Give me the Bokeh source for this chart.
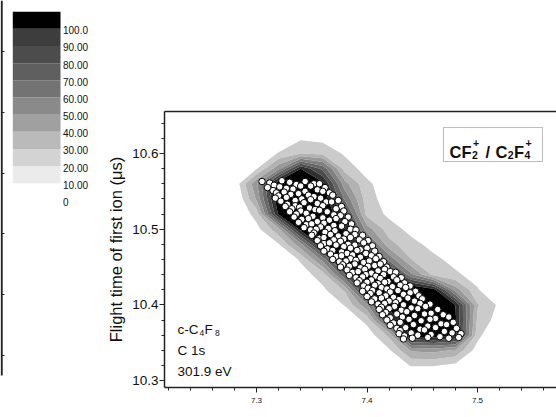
import numpy as np
from bokeh.plotting import figure
from bokeh.layouts import row
from bokeh.models import (Range1d, LinearAxis, SingleIntervalTicker, FixedTicker,
                          PrintfTickFormatter, Label, BoxAnnotation)
from bokeh.embed import file_html
from bokeh.resources import INLINE
from bokeh.core.properties import value

FONT = "Liberation Sans"

# ---------------- colour scale (left key) ----------------
cb_levels = [10, 20, 30, 40, 50, 60, 70, 80, 90, 100, 110]
cb_colors = ["#ebebeb", "#d3d3d3", "#bababa", "#a0a0a0", "#8a8a8a",
             "#737373", "#5f5f5f", "#4c4c4c", "#3d3d3d", "#000000"]
cb_tick_values = [100, 90, 80, 70, 60, 50, 40, 30, 20, 10, 0]
cb_tick_labels = ["100.0", "90.00", "80.00", "70.00", "60.00", "50.00",
                  "40.00", "30.00", "20.00", "10.00", "0"]

# ---------------- contour map (density grid) ----------------
grid_x = [7.26, 7.28, 7.30, 7.32, 7.34, 7.36, 7.38, 7.40,
          7.42, 7.44, 7.46, 7.48, 7.50, 7.52, 7.54, 7.56]
grid_y = [10.30, 10.32, 10.34, 10.36, 10.38, 10.40, 10.42, 10.44, 10.46,
          10.48, 10.50, 10.52, 10.54, 10.56, 10.58, 10.60, 10.62, 10.64]
# rows listed from top (10.64) to bottom (10.30)
z_rows = [
    [0, 0, 0, 12.6, 19.8, 17.7, 9.7, 0, 0, 0, 0, 0, 0, 0, 0, 0],
    [0, 0, 10.4, 21.3, 28.6, 27.1, 18.4, 11.1, 0, 0, 0, 0, 0, 0, 0, 0],
    [0, 11.8, 21.3, 30.8, 39.5, 37.3, 28.6, 20.6, 13.3, 0, 0, 0, 0, 0, 0, 0],
    [0, 17.7, 29.3, 57, 100, 77.2, 35.8, 25.7, 16.2, 0, 0, 0, 0, 0, 0, 0],
    [0, 22, 58, 110, 115, 103, 53.4, 32.2, 23.5, 11.8, 0, 0, 0, 0, 0, 0],
    [0, 16.9, 51.5, 110, 115, 110, 68.2, 34.4, 24.9, 16.2, 0, 0, 0, 0, 0, 0],
    [0, 18.4, 34.4, 102, 112, 112, 87.2, 36.6, 27.8, 18.4, 8.9, 0, 0, 0, 0, 0],
    [0, 12.6, 26.4, 46.9, 105, 112, 100, 55.2, 34.4, 27.1, 19.8, 13.3, 0, 0, 0, 0],
    [0, 0, 18.4, 29.3, 57, 108, 110, 76, 43.8, 32.9, 27.1, 21.3, 15.5, 9.7, 0, 0],
    [0, 0, 0, 19.1, 31.5, 64, 108, 102, 67, 40.2, 32.2, 27.1, 21.3, 16.2, 10.4, 0],
    [0, 0, 0, 15.5, 24.9, 35.1, 79.7, 108, 100, 62, 37.3, 31.5, 26.4, 21.3, 15.5, 10.4],
    [0, 0, 0, 0, 17.7, 27.8, 41.7, 101, 112, 115, 105, 55.2, 30.8, 20.6, 10.4, 0],
    [0, 0, 0, 0, 10.4, 19.8, 30.8, 58, 108, 115, 115, 100, 40.9, 27.8, 16.2, 0],
    [0, 0, 0, 0, 0, 0, 20.6, 33.7, 85.9, 110, 115, 102, 38, 24.9, 12.6, 0],
    [0, 0, 0, 0, 0, 0, 0, 23.5, 42.4, 105, 108, 103, 33.7, 14.8, 0, 0],
    [0, 0, 0, 0, 0, 0, 0, 13.3, 28.6, 51.5, 53.4, 48.8, 24.9, 8.9, 0, 0],
    [0, 0, 0, 0, 0, 0, 0, 0, 20.6, 30.8, 30.8, 27.1, 16.2, 0, 0, 0],
    [0, 0, 0, 0, 0, 0, 0, 0, 0, 16.9, 16.9, 12.6, 0, 0, 0, 0],
]
contour_levels = [30, 40, 50, 60, 70, 80, 90, 100, 130]
contour_colors = ["#cbcbcb", "#b2b2b2", "#999999", "#808080",
                  "#676767", "#4d4d4d", "#303030", "#000000"]

# ---------------- coincidence events (scatter) ----------------
scatter_x = [
    7.305, 7.312, 7.323, 7.330, 7.344, 7.352,
    7.316, 7.336, 7.340, 7.357,
    7.310, 7.321, 7.327, 7.349, 7.362,
    7.315, 7.333, 7.344, 7.355,
    7.318, 7.325, 7.338, 7.360, 7.366,
    7.320, 7.331, 7.347, 7.352, 7.369,
    7.317, 7.327, 7.341, 7.358,
    7.322, 7.335, 7.349, 7.363, 7.374,
    7.328, 7.343, 7.355, 7.368,
    7.326, 7.335, 7.339, 7.360, 7.377,
    7.332, 7.348, 7.353, 7.372,
    7.330, 7.340, 7.357, 7.364, 7.379,
    7.336, 7.345, 7.370,
    7.334, 7.351, 7.360, 7.376, 7.383,
    7.341, 7.347, 7.366, 7.372,
    7.338, 7.355, 7.361, 7.380,
    7.345, 7.350, 7.370, 7.386,
    7.343, 7.358, 7.365, 7.377,
    7.349, 7.354, 7.371, 7.385, 7.390,
    7.352, 7.362, 7.381,
    7.350, 7.367, 7.374, 7.389, 7.396,
    7.357, 7.361, 7.379, 7.385,
    7.355, 7.370, 7.376, 7.393, 7.401,
    7.361, 7.366, 7.383, 7.397,
    7.358, 7.372, 7.379, 7.389, 7.405,
    7.364, 7.385, 7.394, 7.400,
    7.361, 7.369, 7.377, 7.391, 7.407,
    7.367, 7.382, 7.387, 7.399,
    7.372, 7.377, 7.394, 7.404, 7.411,
    7.369, 7.385, 7.390, 7.408,
    7.375, 7.381, 7.397, 7.402, 7.415,
    7.378, 7.389, 7.407, 7.412,
    7.376, 7.384, 7.394, 7.401, 7.418,
    7.382, 7.398, 7.410, 7.416,
    7.387, 7.392, 7.404, 7.421, 7.426,
    7.384, 7.399, 7.408, 7.415,
    7.390, 7.396, 7.412, 7.424, 7.431,
    7.393, 7.404, 7.419, 7.427,
    7.391, 7.400, 7.410, 7.416, 7.434,
    7.397, 7.407, 7.423, 7.430, 7.439,
    7.401, 7.413, 7.418, 7.435,
    7.396, 7.405, 7.421, 7.428, 7.444,
    7.403, 7.411, 7.433, 7.439,
    7.400, 7.417, 7.424, 7.447,
    7.407, 7.413, 7.429, 7.437, 7.450,
    7.404, 7.420, 7.426, 7.443,
    7.410, 7.416, 7.433, 7.448, 7.457,
    7.413, 7.425, 7.440, 7.453,
    7.411, 7.420, 7.431, 7.446, 7.464,
    7.417, 7.436, 7.458,
    7.414, 7.427, 7.443, 7.452, 7.469,
    7.421, 7.432, 7.462, 7.474,
    7.418, 7.438, 7.449, 7.457,
    7.424, 7.430, 7.467, 7.478,
    7.421, 7.442, 7.455, 7.472,
    7.427, 7.435, 7.448, 7.462, 7.481,
    7.430, 7.452, 7.470,
    7.429, 7.440, 7.458, 7.477, 7.485,
    7.434, 7.446, 7.466,
    7.433, 7.441, 7.455, 7.474, 7.483,
]
scatter_y = [
    10.563, 10.561, 10.564, 10.562, 10.563, 10.560,
    10.558, 10.559, 10.557, 10.560,
    10.555, 10.556, 10.554, 10.557, 10.555,
    10.551, 10.553, 10.550, 10.552,
    10.548, 10.549, 10.547, 10.550, 10.548,
    10.544, 10.546, 10.545, 10.543, 10.545,
    10.541, 10.542, 10.540, 10.541,
    10.537, 10.538, 10.539, 10.536, 10.538,
    10.533, 10.535, 10.534, 10.536,
    10.530, 10.531, 10.529, 10.531, 10.530,
    10.527, 10.528, 10.526, 10.527,
    10.523, 10.524, 10.525, 10.523, 10.524,
    10.520, 10.521, 10.519,
    10.516, 10.517, 10.515, 10.518, 10.516,
    10.513, 10.514, 10.512, 10.514,
    10.509, 10.510, 10.508, 10.510,
    10.506, 10.507, 10.505, 10.507,
    10.502, 10.503, 10.501, 10.504,
    10.499, 10.500, 10.498, 10.500, 10.499,
    10.495, 10.496, 10.494,
    10.492, 10.493, 10.491, 10.493, 10.492,
    10.488, 10.489, 10.487, 10.489,
    10.485, 10.486, 10.484, 10.486, 10.485,
    10.481, 10.482, 10.480, 10.482,
    10.478, 10.479, 10.477, 10.479, 10.478,
    10.474, 10.475, 10.473, 10.475,
    10.471, 10.472, 10.470, 10.472, 10.471,
    10.467, 10.468, 10.466, 10.468,
    10.464, 10.465, 10.463, 10.465, 10.464,
    10.460, 10.461, 10.459, 10.461,
    10.457, 10.458, 10.456, 10.458, 10.457,
    10.453, 10.454, 10.452, 10.454,
    10.450, 10.451, 10.449, 10.451, 10.450,
    10.446, 10.447, 10.445, 10.447,
    10.443, 10.444, 10.442, 10.444, 10.443,
    10.439, 10.440, 10.438, 10.440,
    10.436, 10.437, 10.435, 10.437, 10.436,
    10.432, 10.433, 10.431, 10.433,
    10.429, 10.430, 10.428, 10.430, 10.429,
    10.425, 10.426, 10.424, 10.426, 10.425,
    10.422, 10.423, 10.421, 10.423,
    10.418, 10.419, 10.417, 10.419, 10.418,
    10.415, 10.416, 10.414, 10.416,
    10.411, 10.412, 10.410, 10.412,
    10.408, 10.409, 10.407, 10.409, 10.408,
    10.404, 10.405, 10.403, 10.405,
    10.401, 10.402, 10.400, 10.402, 10.401,
    10.397, 10.398, 10.396, 10.398,
    10.394, 10.395, 10.393, 10.395, 10.394,
    10.390, 10.391, 10.389,
    10.387, 10.388, 10.386, 10.388, 10.387,
    10.383, 10.384, 10.382, 10.384,
    10.380, 10.381, 10.379, 10.381,
    10.376, 10.377, 10.375, 10.377,
    10.373, 10.374, 10.372, 10.374,
    10.369, 10.370, 10.368, 10.370, 10.369,
    10.366, 10.367, 10.365,
    10.362, 10.363, 10.361, 10.363, 10.362,
    10.359, 10.360, 10.358,
    10.355, 10.356, 10.357, 10.356, 10.357,
]

x_tick_interval = 0.1
y_tick_interval = 0.1
axis_title = "Flight time of first ion (μs)"
sample_lines = ["C 1s", "301.9 eV"]

# ================= colour key figure =================
p1 = figure(width=93, height=417, x_range=Range1d(0, 93),
            y_range=Range1d(-126.4, 116.48), output_backend="svg",
            toolbar_location=None, x_axis_location=None, y_axis_location=None,
            min_border=0)
p1.frame_align = False
p1.outline_line_color = None
p1.grid.visible = False
p1.extra_y_ranges = {"px": Range1d(417, 0)}

p1.quad(left=12.3, right=60, bottom=cb_levels[:-1], top=cb_levels[1:],
        fill_color=cb_colors, line_color=None)
p1.text(x=[62.5] * len(cb_tick_values), y=cb_tick_values, text=cb_tick_labels,
        text_font=value(FONT), text_font_size="10px", text_baseline="middle",
        text_align="left", text_color="#111111", y_offset=1.5)
# remnant of the neighbouring panel's axis at the left edge
p1.segment(x0=[1.2], y0=[0], x1=[1.2], y1=[375], y_range_name="px",
           line_color="#222222", line_width=2)
p1.segment(x0=[1.5] * 6, y0=[51, 112, 173, 233, 294, 355], x1=[4] * 6,
           y1=[51, 112, 173, 233, 294, 355], y_range_name="px",
           line_color="#222222", line_width=1)

# ================= main figure =================
p = figure(frame_width=392, frame_height=276, min_border_left=71,
           min_border_right=0, min_border_top=111, min_border_bottom=30,
           x_range=Range1d(7.21674, 7.57149), y_range=Range1d(10.29089, 10.65548),
           output_backend="svg", toolbar_location=None)
p.frame_align = False
p.outline_line_color = None
p.grid.visible = False

X, Y = np.meshgrid(np.array(grid_x), np.array(grid_y))
Z = np.array(z_rows[::-1], dtype=float)
p.contour(X, Y, Z, levels=contour_levels, fill_color=contour_colors)

p.scatter(scatter_x, scatter_y, marker="circle", size=6.5, fill_color="white",
          line_color="black", line_width=1)

ax = p.xaxis[0]
ax.ticker = SingleIntervalTicker(interval=x_tick_interval, num_minor_ticks=5)
ax.formatter = PrintfTickFormatter(format="%.1f")
ay = p.yaxis[0]
ay.ticker = SingleIntervalTicker(interval=y_tick_interval, num_minor_ticks=5)
ay.formatter = PrintfTickFormatter(format="%.1f")
for a in (ax, ay):
    a.axis_line_width = 1.5
    a.axis_line_color = "#222222"
    a.major_tick_line_color = "#222222"
    a.minor_tick_line_color = "#222222"
    a.major_tick_out = 5
    a.major_tick_in = 0
    a.minor_tick_out = 3
    a.minor_tick_in = 0
    a.major_label_text_font = FONT
    a.major_label_text_color = "#111111"
ax.major_label_text_font_size = "8px"
ax.major_label_standoff = 5
ay.major_label_text_font_size = "13.5px"
ay.major_label_standoff = 1
ay.axis_label = axis_title
ay.axis_label_text_font = FONT
ay.axis_label_text_font_size = "16.5px"
ay.axis_label_text_font_style = "normal"
ay.axis_label_text_color = "#111111"
ay.axis_label_standoff = 4

top = LinearAxis(ticker=FixedTicker(ticks=[]), axis_line_width=1.5,
                 axis_line_color="#222222", major_tick_out=0, minor_tick_out=0,
                 major_label_text_font_size="0px")
p.add_layout(top, "above")

# x axis title (cut by the picture edge, as in the original)
p.add_layout(Label(x=7.4054, y=10.2697, text=axis_title, text_align="center",
                   text_baseline="top", text_font=FONT, text_font_size="16.5px",
                   text_color="#111111"))

def lab(x, y, t, size, style="normal"):
    p.add_layout(Label(x=x, y=y, text=t, text_font=FONT, text_font_size=size,
                       text_font_style=style, text_baseline="alphabetic",
                       text_color="#111111"))

# sample annotation
lab(7.2285, 10.3675, "c-C", "13.5px")
lab(7.2484, 10.3635, "4", "8.5px")
lab(7.2529, 10.3675, "F", "13.5px")
lab(7.2624, 10.3635, "8", "8.5px")
lab(7.2285, 10.3398, sample_lines[0], "13.5px")
lab(7.2285, 10.3120, sample_lines[1], "13.5px")

# ion pair box
p.add_layout(BoxAnnotation(left=7.4692, right=7.5588, top=10.6343, bottom=10.5894,
                           fill_color="white", fill_alpha=1.0,
                           line_color="#222222", line_width=1))
lab(7.47466, 10.60264, "CF", "16.5px", "bold")
lab(7.49502, 10.59736, "2", "10.5px", "bold")
lab(7.49593, 10.61321, "+", "10.5px", "bold")
lab(7.50724, 10.60264, "/", "16.5px", "bold")
lab(7.51629, 10.60264, "C", "16.5px", "bold")
lab(7.52742, 10.59736, "2", "10.5px", "bold")
lab(7.53303, 10.60264, "F", "16.5px", "bold")
lab(7.54253, 10.59736, "4", "10.5px", "bold")
lab(7.54344, 10.61321, "+", "10.5px", "bold")

layout = row(p1, p)
open("out.html", "w").write(file_html(layout, INLINE))
